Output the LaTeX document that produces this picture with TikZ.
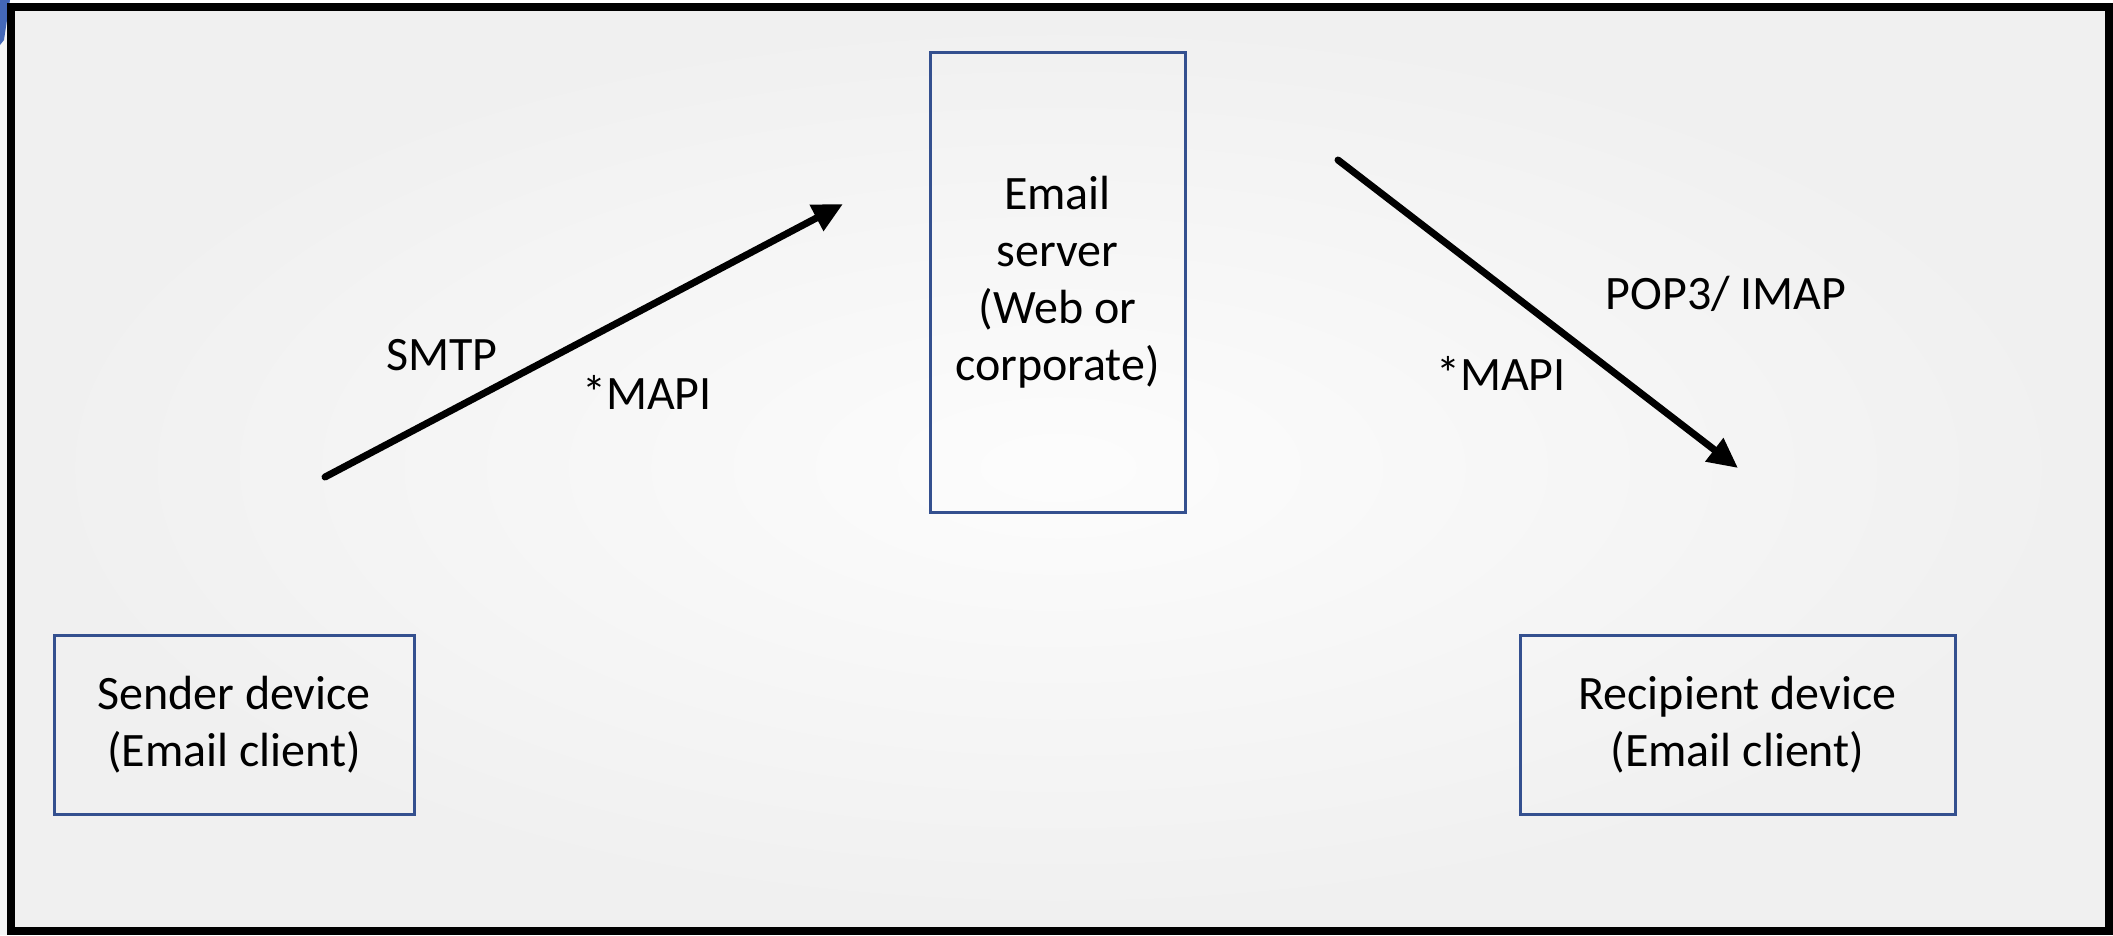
\documentclass[tikz,border=0pt]{standalone}
\usepackage{fontspec}
\setmainfont{Carlito}
\usetikzlibrary{arrows.meta}
\definecolor{boxblue}{HTML}{34508F}
\definecolor{cornerblue}{HTML}{4468B8}
\tikzset{
  devbox/.style={draw=boxblue, line width=3pt, fill=none, inner sep=0pt, align=center, font=\fontsize{48}{57}\selectfont},
  lbl/.style={font=\fontsize{48}{57}\selectfont, inner sep=0pt},
  flow/.style={line width=7pt, -{Triangle[length=30pt,width=28pt]}, line cap=round}
}
\begin{document}
\begin{tikzpicture}[x=1pt,y=-1pt]
\useasboundingbox (0,0) rectangle (2113,935);
\fill[white] (0,0) rectangle (2113,935);
\fill[gray!8] (0,0) rectangle (8,935);
\shade[inner color=black!1, outer color=black!6] (9,6) rectangle (2107,929);
\fill[cornerblue] (0,0) -- (10,0) -- (4,40) -- (0,45) -- cycle;
\draw[black, line width=8pt] (11,7) rectangle (2109,931);
\node[devbox, minimum width=360pt, minimum height=179pt] (sender) at (234,724.5) {Sender device\\(Email client)};
\node[devbox, minimum width=435pt, minimum height=179pt] (recip) at (1737.5,724.5) {Recipient device\\(Email client)};
\node[devbox, minimum width=255pt, minimum height=460pt] (server) at (1057.5,282) {Email\\server\\(Web or\\corporate)};
\coordinate (a1s) at (325,477);
\coordinate (a1e) at (843,204);
\coordinate (a2s) at (1338,160);
\coordinate (a2e) at (1738,468);
\draw[flow] (a1s) -- (a1e);
\draw[flow] (a2s) -- (a2e);
\node[lbl] (smtp) at (442,355) {SMTP};
\node[lbl] (mapi1) at (647,392) {*MAPI};
\node[lbl] (mapi2) at (1501,373) {*MAPI};
\node[lbl] (pop) at (1726,294) {POP3/ IMAP};
\end{tikzpicture}
\end{document}
